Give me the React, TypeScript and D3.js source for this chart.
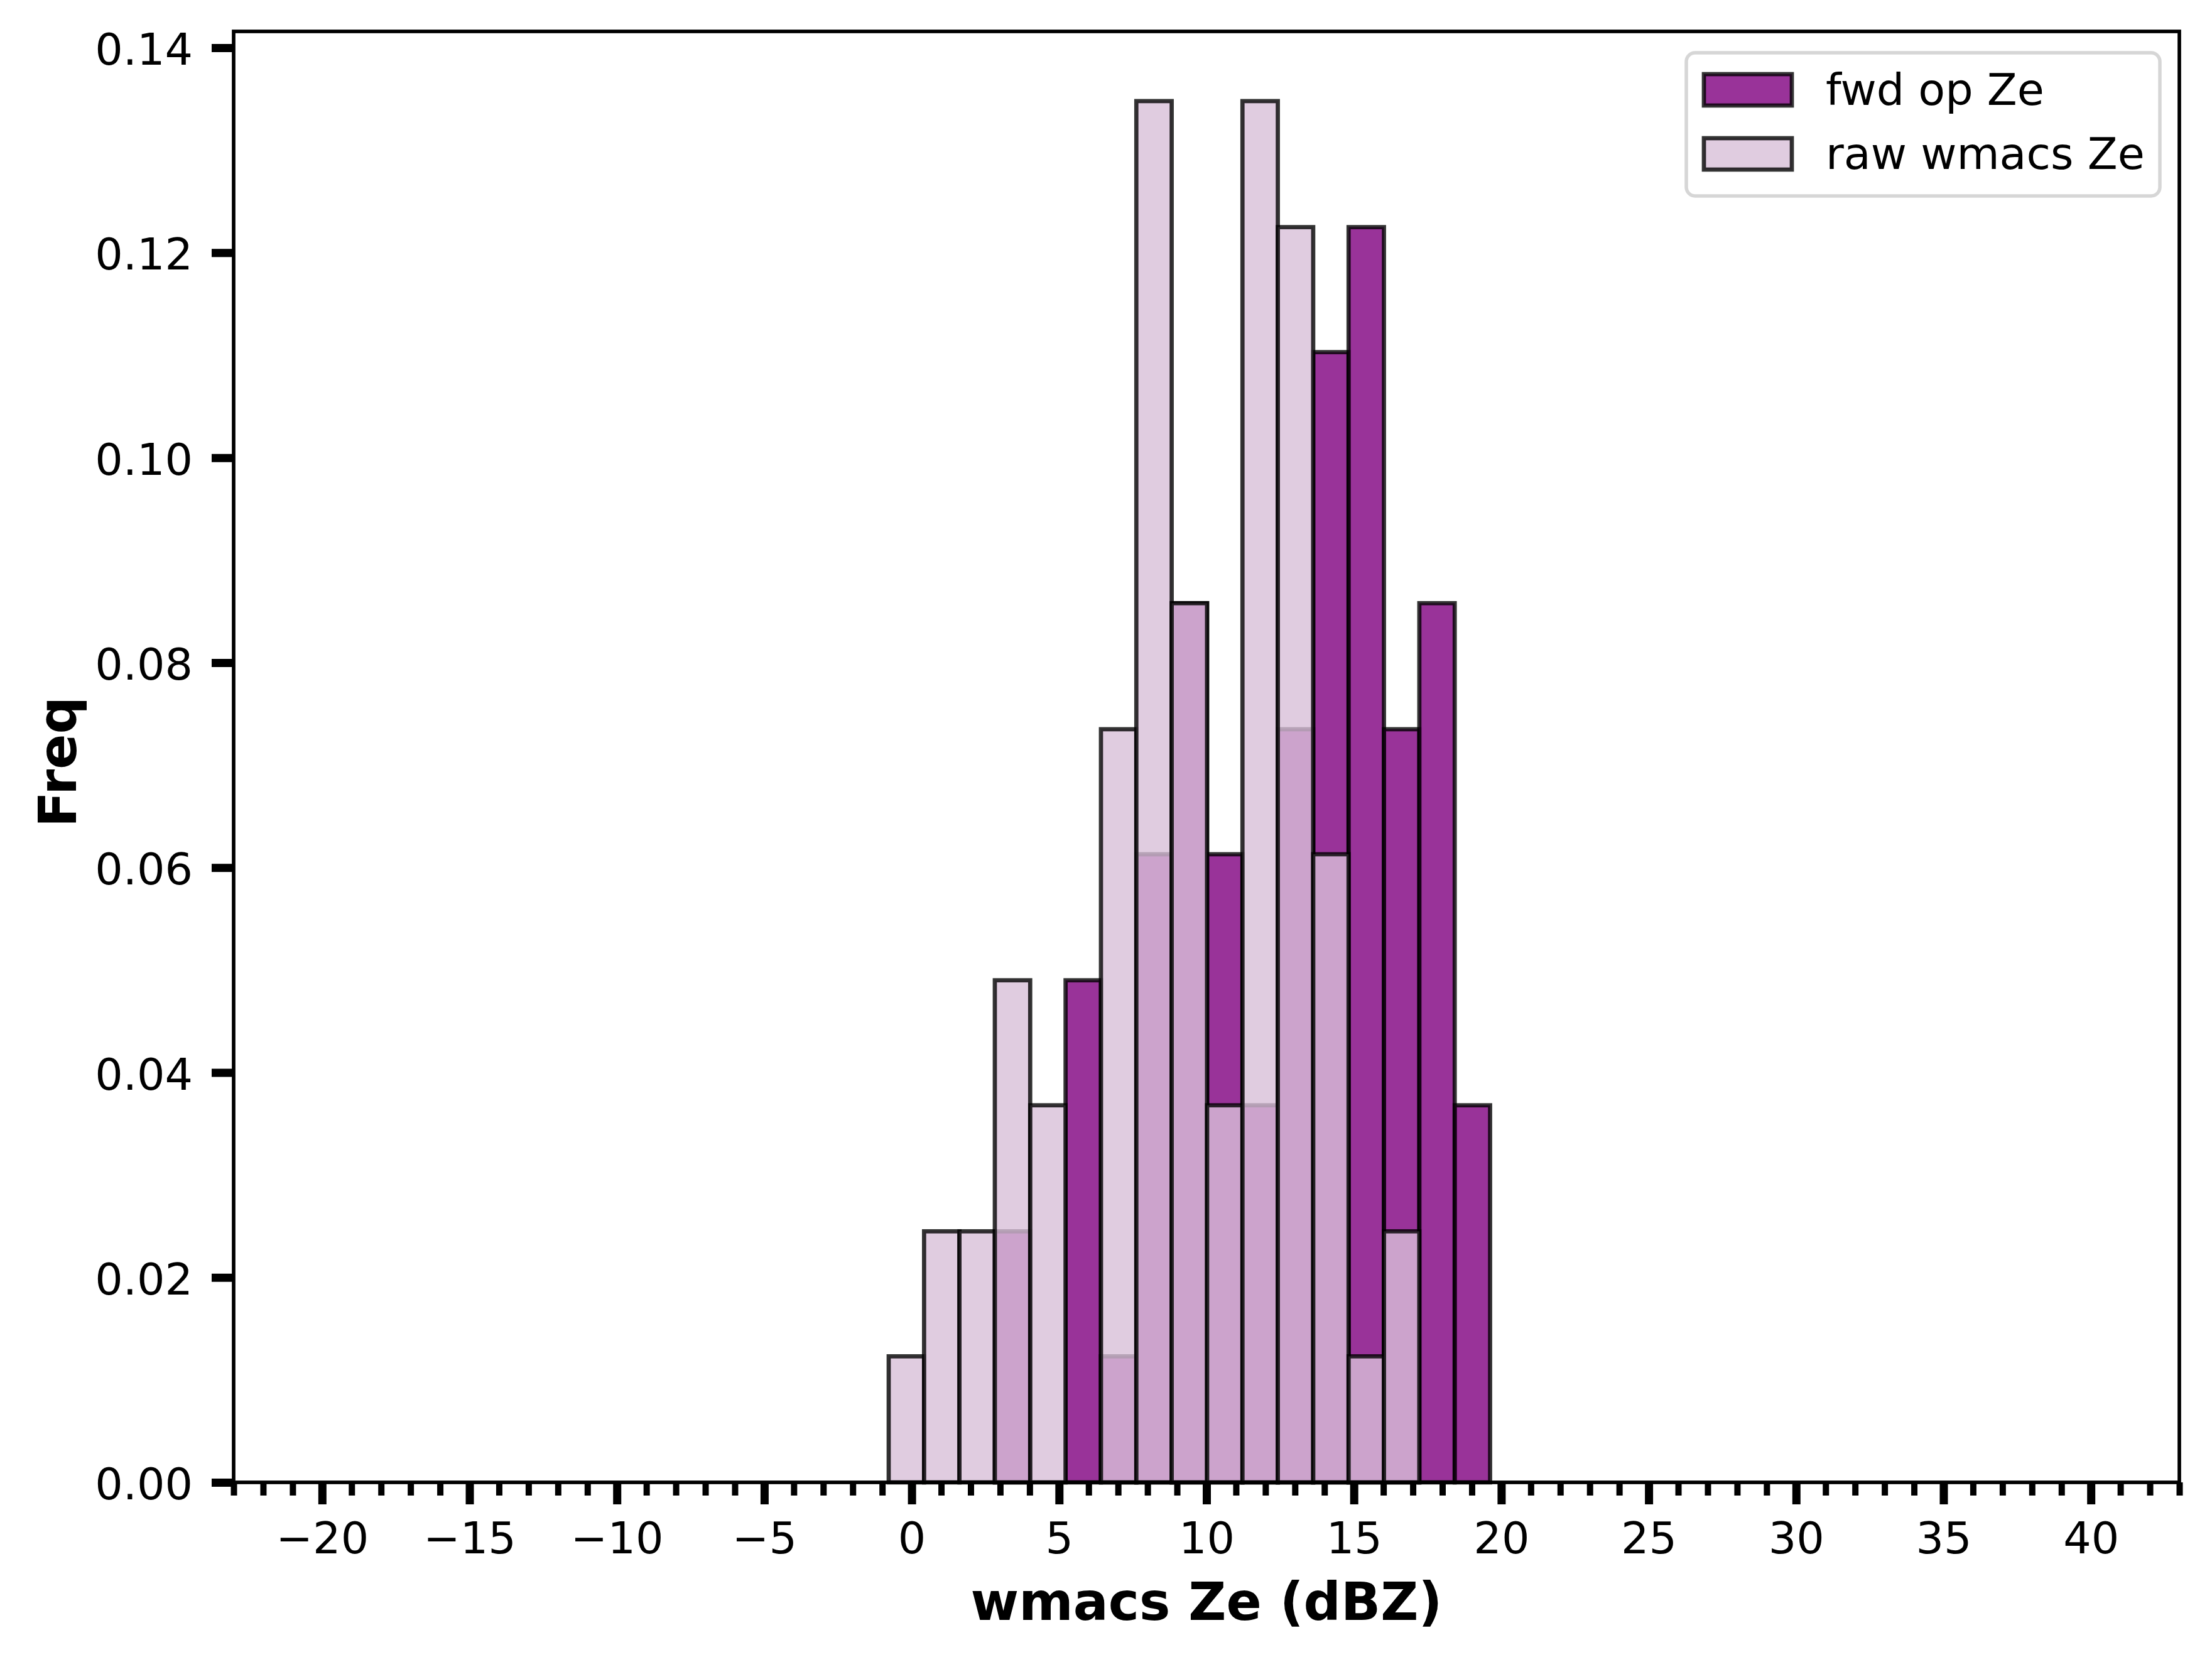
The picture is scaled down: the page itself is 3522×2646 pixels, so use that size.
import React, { useRef, useEffect } from "react";
import * as d3 from "d3";

// shared bin edges (dBZ) for both histograms
const binEdges = [
    -0.78, 0.42, 1.62, 2.82, 4.02, 5.22, 6.42, 7.62, 8.82, 10.02, 11.22,
    12.42, 13.62, 14.82, 16.02, 17.22, 18.42, 19.62,
];

// density per bin
const fwdOpZe = [
    0, 0, 0, 0.0245, 0, 0.049, 0.0123, 0.0613, 0.0858, 0.0613, 0.0368,
    0.0735, 0.1103, 0.1225, 0.0735, 0.0858, 0.0368,
];
const rawWmacsZe = [
    0.0123, 0.0245, 0.0245, 0.049, 0.0368, 0, 0.0735, 0.1348, 0.0858,
    0.0368, 0.1348, 0.1225, 0.0613, 0.0123, 0.0245, 0, 0,
];

const xTicks = [-20, -15, -10, -5, 0, 5, 10, 15, 20, 25, 30, 35, 40];
const yTicks = [0, 0.02, 0.04, 0.06, 0.08, 0.1, 0.12, 0.14];

const seriesNames = ["fwd op Ze", "raw wmacs Ze"];
const seriesColors = ["purple", "thistle"];

const width = 3522;
const height = 2646;
const margin = { top: 50, right: 52, bottom: 286, left: 372 };
const font = "DejaVu Sans";
const edgeWidth = 6.7;

export default function App() {
    const svgRef = useRef<SVGSVGElement | null>(null);

    useEffect(() => {
        if (!svgRef.current) return;
        const svg = d3.select(svgRef.current);
        svg.selectAll("*").remove();

        const x = d3
            .scaleLinear()
            .domain([-23, 43])
            .range([margin.left, width - margin.right]);
        const y = d3
            .scaleLinear()
            .domain([0, 0.1416])
            .range([height - margin.bottom, margin.top]);

        const bins = d3.range(binEdges.length - 1);

        [fwdOpZe, rawWmacsZe].forEach((vals, s) => {
            svg.append("g")
                .selectAll("rect")
                .data(bins.filter((i) => vals[i] > 0))
                .join("rect")
                .attr("x", (i) => x(binEdges[i]))
                .attr("width", (i) => x(binEdges[i + 1]) - x(binEdges[i]))
                .attr("y", (i) => y(vals[i]))
                .attr("height", (i) => y(0) - y(vals[i]))
                .attr("fill", seriesColors[s])
                .attr("fill-opacity", 0.8)
                .attr("stroke", "black")
                .attr("stroke-opacity", 0.8)
                .attr("stroke-width", edgeWidth);
        });

        // x axis: minor ticks every 1, major every 5
        const minor = d3.range(-23, 44).filter((v) => v % 5 !== 0);
        const gxMinor = svg
            .append("g")
            .attr("transform", `translate(0,${y(0)})`)
            .call(d3.axisBottom(x).tickValues(minor).tickSize(21).tickFormat(() => ""));
        gxMinor.select(".domain").remove();
        gxMinor.selectAll("line").attr("stroke-width", 10);

        const gx = svg
            .append("g")
            .attr("transform", `translate(0,${y(0)})`)
            .call(
                d3
                    .axisBottom(x)
                    .tickValues(xTicks)
                    .tickSize(35)
                    .tickPadding(28)
                    .tickFormat(d3.format("d")),
            );
        gx.select(".domain").remove();
        gx.selectAll("line").attr("stroke-width", 13);
        gx.selectAll("text")
            .attr("font-family", font)
            .attr("font-size", 70)
            .attr("fill", "black");

        const gy = svg
            .append("g")
            .attr("transform", `translate(${margin.left},0)`)
            .call(
                d3
                    .axisLeft(y)
                    .tickValues(yTicks)
                    .tickSize(35)
                    .tickPadding(30)
                    .tickFormat(d3.format(".2f")),
            );
        gy.select(".domain").remove();
        gy.selectAll("line").attr("stroke-width", 13);
        gy.selectAll("text")
            .attr("font-family", font)
            .attr("font-size", 70)
            .attr("dy", "0.38em")
            .attr("fill", "black");

        // spines
        svg.append("rect")
            .attr("x", margin.left)
            .attr("y", margin.top)
            .attr("width", width - margin.left - margin.right)
            .attr("height", height - margin.top - margin.bottom)
            .attr("fill", "none")
            .attr("stroke", "black")
            .attr("stroke-width", 5.7);

        // axis labels
        svg.append("text")
            .attr("x", (margin.left + width - margin.right) / 2)
            .attr("y", 2579)
            .attr("text-anchor", "middle")
            .attr("font-family", font)
            .attr("font-weight", "bold")
            .attr("font-size", 83)
            .text("wmacs Ze (dBZ)");

        svg.append("text")
            .attr("transform", `translate(121,1213) rotate(-90)`)
            .attr("text-anchor", "middle")
            .attr("font-family", font)
            .attr("font-weight", "bold")
            .attr("font-size", 83)
            .text("Freq");

        // legend
        const lg = svg.append("g").attr("transform", "translate(2685,84)");
        lg.append("rect")
            .attr("width", 754)
            .attr("height", 228)
            .attr("rx", 14)
            .attr("fill", "white")
            .attr("fill-opacity", 0.8)
            .attr("stroke", "#cccccc")
            .attr("stroke-opacity", 0.8)
            .attr("stroke-width", 5.5);
        seriesNames.forEach((name, i) => {
            lg.append("rect")
                .attr("x", 28)
                .attr("y", 34 + i * 102)
                .attr("width", 140)
                .attr("height", 50)
                .attr("fill", seriesColors[i])
                .attr("fill-opacity", 0.8)
                .attr("stroke", "black")
                .attr("stroke-opacity", 0.8)
                .attr("stroke-width", edgeWidth);
            lg.append("text")
                .attr("x", 222)
                .attr("y", 83 + i * 102)
                .attr("font-family", font)
                .attr("font-size", 70)
                .text(name);
        });
    }, []);

    return (
        <svg
            ref={svgRef}
            width={width}
            height={height}
            style={{ position: "absolute", left: 0, top: 0, background: "white" }}
        ></svg>
    );
}
